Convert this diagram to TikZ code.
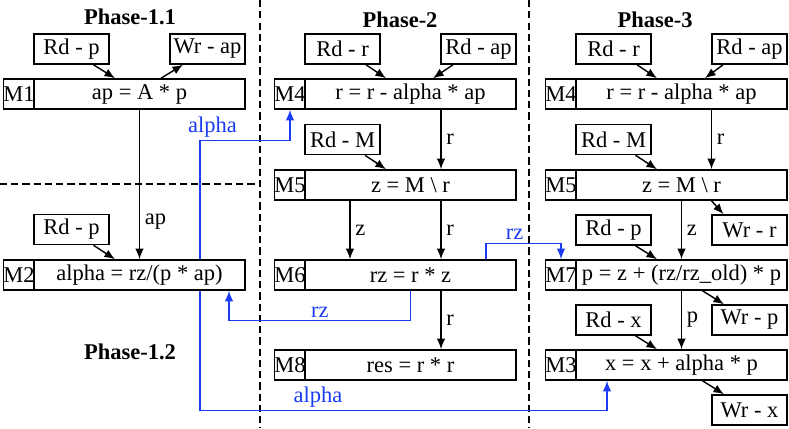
\documentclass[tikz,border=0pt]{standalone}
\usepackage{fontspec}
\setmainfont{Liberation Serif}
\usepackage{tikz}
\usetikzlibrary{arrows.meta,calc}
\definecolor{flowblue}{HTML}{1A3CF5}
\tikzset{
  iobox/.style={draw, line width=1.1pt, minimum width=1.875cm, minimum height=0.75cm, inner sep=0pt},
  tagbox/.style={draw, line width=1.1pt, minimum width=0.75cm, minimum height=0.75cm, inner sep=0pt},
  opbox/.style={draw, line width=1.1pt, minimum width=5.275cm, minimum height=0.75cm, inner sep=0pt},
  phase/.style={font=\fontsize{16}{19}\selectfont\bfseries},
  flow/.style={-{Latex[length=7.5pt,width=6pt]}, line width=1pt},
  bflow/.style={flow, flowblue},
  blabel/.style={text=flowblue, inner sep=2pt},
  sep/.style={dashed, dash pattern=on 5pt off 3pt, line width=0.9pt}
}
\begin{document}
\begin{tikzpicture}[x=0.025cm, y=-0.025cm, font=\fontsize{16}{19}\selectfont]
  \useasboundingbox (0,0) rectangle (789,428);
  % phase borders
  \draw[sep] (260,0) -- (260,428);
  \draw[sep] (529,0) -- (529,428);
  \draw[sep] (0,184) -- (260,184);

  % Phase-1.1 / Phase-1.2
  \node[phase] (ph11) at (130,17) {Phase-1.1};
  \node[iobox] (rdp1) at (71.5,49) {Rd - p};
  \node[iobox] (wrap1) at (207.5,49) {Wr - ap};
  \node[tagbox] (m1tag) at (19,94) {M1};
  \node[opbox] (m1) at (139.5,94) {ap = A * p};
  \node[iobox] (rdp2) at (71.5,229.5) {Rd - p};
  \node[tagbox] (m2tag) at (19,275) {M2};
  \node[opbox] (m2) at (139.5,275) {alpha = rz/(p * ap)};
  \node[phase] (ph12) at (130,352) {Phase-1.2};

  \draw[flow] ($(rdp1.south)+(22,0)$) -- ($(m1.north)+(-24.5,0)$);
  \draw[flow] ($(m1.north)+(21.5,0)$) -- ($(wrap1.south)+(-24.5,0)$);
  \draw[flow] (m1.south) -- (m2.north) node[pos=0.75, right] {ap};
  \draw[flow] ($(rdp2.south)+(22,0)$) -- ($(m2.north)+(-24.5,0)$);

  % Phase-2
  \node[phase] (ph2) at (400,20) {Phase-2};
  \node[iobox] (rdr2) at (342.5,49) {Rd - r};
  \node[iobox] (rdap2) at (478.5,49) {Rd - ap};
  \node[tagbox] (m4tagb) at (290,94) {M4};
  \node[opbox] (m4b) at (410.5,94) {r = r - alpha * ap};
  \node[iobox] (rdm2) at (342.5,139.5) {Rd - M};
  \node[tagbox] (m5tagb) at (290,185) {M5};
  \node[opbox] (m5b) at (410.5,185) {z = M \textbackslash\ r};
  \node[tagbox] (m6tag) at (290,275) {M6};
  \node[opbox] (m6) at (410.5,275) {rz = r * z};
  \node[tagbox] (m8tag) at (290,365) {M8};
  \node[opbox] (m8) at (410.5,365) {res = r * r};

  \draw[flow] ($(rdr2.south)+(23.5,0)$) -- ($(m4b.north)+(-24.5,0)$);
  \draw[flow] ($(rdap2.south)+(-25.5,0)$) -- ($(m4b.north)+(22.5,0)$);
  \draw[flow] ($(m4b.south)+(30.5,0)$) -- ($(m5b.north)+(30.5,0)$) node[midway, right] {r};
  \draw[flow] ($(rdm2.south)+(22.5,0)$) -- ($(m5b.north)+(-24.5,0)$);
  \draw[flow] ($(m5b.south)+(-60.5,0)$) -- ($(m6.north)+(-60.5,0)$) node[midway, right] {z};
  \draw[flow] ($(m5b.south)+(30.5,0)$) -- ($(m6.north)+(30.5,0)$) node[midway, right] {r};
  \draw[flow] ($(m6.south)+(30.5,0)$) -- ($(m8.north)+(30.5,0)$) node[midway, right] {r};

  % Phase-3
  \node[phase] (ph3) at (655,20) {Phase-3};
  \node[iobox] (rdr3) at (613.5,49) {Rd - r};
  \node[iobox] (rdap3) at (749.5,49) {Rd - ap};
  \node[tagbox] (m4tagc) at (561,94) {M4};
  \node[opbox] (m4c) at (681.5,94) {r = r - alpha * ap};
  \node[iobox] (rdm3) at (613.5,139.5) {Rd - M};
  \node[tagbox] (m5tagc) at (561,185) {M5};
  \node[opbox] (m5c) at (681.5,185) {z = M \textbackslash\ r};
  \node[iobox] (rdp3) at (613.5,230) {Rd - p};
  \node[iobox] (wrr3) at (749.5,230) {Wr - r};
  \node[tagbox] (m7tag) at (561,275) {M7};
  \node[opbox] (m7) at (681.5,275) {p = z + (rz/rz\_old) * p};
  \node[iobox] (rdx3) at (613.5,320) {Rd - x};
  \node[iobox] (wrp3) at (749.5,320) {Wr - p};
  \node[tagbox] (m3tag) at (561,365) {M3};
  \node[opbox] (m3) at (681.5,365) {x = x + alpha * p};
  \node[iobox] (wrx3) at (749.5,410) {Wr - x};

  \draw[flow] ($(rdr3.south)+(23.5,0)$) -- ($(m4c.north)+(-24.5,0)$);
  \draw[flow] ($(rdap3.south)+(-26.5,0)$) -- ($(m4c.north)+(23.5,0)$);
  \draw[flow] ($(m4c.south)+(30,0)$) -- ($(m5c.north)+(30,0)$) node[midway, right] {r};
  \draw[flow] ($(rdm3.south)+(22,0)$) -- ($(m5c.north)+(-24.5,0)$);
  \draw[flow] (m5c.south) -- (m7.north) node[midway, right] {z};
  \draw[flow] ($(m5c.south)+(30,0)$) -- ($(wrr3.north)+(-26,0)$);
  \draw[flow] ($(rdp3.south)+(22,0)$) -- ($(m7.north)+(-24.5,0)$);
  \draw[flow] (m7.south) -- (m3.north) node[midway, right] {p};
  \draw[flow] ($(m7.south)+(21,0)$) -- ($(wrp3.north)+(-25.5,0)$);
  \draw[flow] ($(rdx3.south)+(22,0)$) -- ($(m3.north)+(-24.5,0)$);
  \draw[flow] ($(m3.south)+(21,0)$) -- ($(wrx3.north)+(-25.5,0)$);

  % data passed between phases
  \draw[bflow] ($(m2.north)+(60.5,0)$) |- ($(m4tagb.south)+(0,31)$)
    node[blabel, pos=0.57, above] {alpha} -- (m4tagb.south);
  \draw[bflow] ($(m2.south)+(60.5,0)$) |- ($(m3.south)+(-74.5,30)$)
    node[blabel, pos=0.645, above] {alpha} -- ($(m3.south)+(-74.5,0)$);
  \draw[bflow] (m6.south) |- ($(m2.south)+(89.5,30)$)
    node[blabel, pos=0.75, above] {rz} -- ($(m2.south)+(89.5,0)$);
  \draw[bflow] ($(m6.north)+(75.5,0)$) |- ($(m7tag.north)+(0,-16)$)
    node[blabel, pos=0.69, above] {rz} -- (m7tag.north);
\end{tikzpicture}
\end{document}
